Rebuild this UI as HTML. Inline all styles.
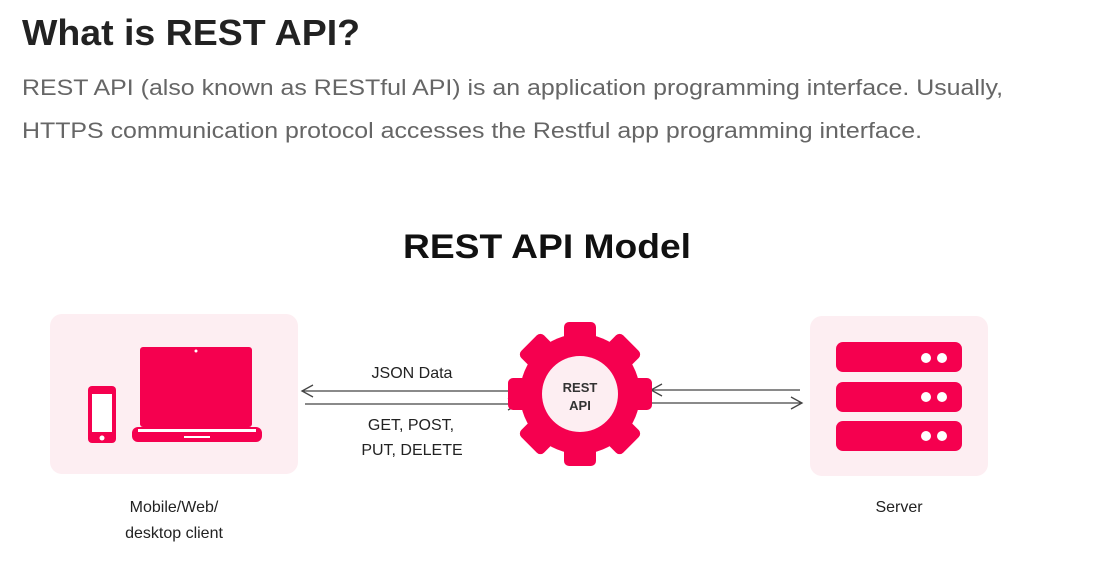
<!DOCTYPE html>
<html><head><meta charset="utf-8"><style>
html,body{margin:0;padding:0;background:#fff;width:1100px;height:572px;overflow:hidden}
svg{display:block}
</style></head><body>
<svg width="1100" height="572" viewBox="0 0 1100 572" xmlns="http://www.w3.org/2000/svg">
<text x="22" y="45" font-family="Liberation Sans, sans-serif" font-weight="bold" font-size="36" fill="#222" textLength="338" lengthAdjust="spacingAndGlyphs">What is REST API?</text>
<text x="22" y="95" font-family="Liberation Sans, sans-serif" font-size="22" fill="#666" textLength="981" lengthAdjust="spacingAndGlyphs">REST API (also known as RESTful API) is an application programming interface. Usually,</text>
<text x="22" y="138" font-family="Liberation Sans, sans-serif" font-size="22" fill="#666" textLength="900" lengthAdjust="spacingAndGlyphs">HTTPS communication protocol accesses the Restful app programming interface.</text>
<text x="547" y="258" text-anchor="middle" font-family="Liberation Sans, sans-serif" font-weight="bold" font-size="34" fill="#111" textLength="288" lengthAdjust="spacingAndGlyphs">REST API Model</text>
<!-- left box -->
<rect x="50" y="314" width="248" height="160" rx="12" fill="#fdeef2"/>
<rect x="88" y="386" width="28" height="57" rx="4" fill="#f5004f"/>
<rect x="92" y="394" width="20" height="38" fill="#fff"/>
<circle cx="102" cy="438" r="2.5" fill="#fff"/>
<rect x="140" y="347" width="112" height="80" rx="3" fill="#f5004f"/>
<circle cx="196" cy="351" r="1.5" fill="#fff"/>
<rect x="132" y="427" width="130" height="15" rx="6" fill="#f5004f"/>
<rect x="138" y="429" width="118" height="3" fill="#fff"/>
<rect x="184" y="436" width="26" height="2" fill="#fff"/>
<!-- arrows -->
<g stroke="#444" stroke-width="1.3" fill="none">
<line x1="302" y1="391" x2="517" y2="391"/><polyline points="313,385 302,391 313,397"/>
<line x1="305" y1="404" x2="519" y2="404"/><polyline points="508,398 519,404 508,410"/>
<line x1="651" y1="390" x2="800" y2="390"/><polyline points="662,384 651,390 662,396"/>
<line x1="652" y1="403" x2="802" y2="403"/><polyline points="791,397 802,403 791,409"/>
</g>
<g font-family="Liberation Sans, sans-serif" font-size="16" fill="#222" text-anchor="middle">
<text x="412" y="378">JSON Data</text>
<text x="411" y="430">GET, POST,</text>
<text x="412" y="455">PUT, DELETE</text>
<text x="174" y="512">Mobile/Web/</text>
<text x="174" y="538">desktop client</text>
<text x="899" y="512">Server</text>
</g>
<!-- gear -->
<g fill="#f5004f" transform="translate(580,394)">
<circle r="60"/>
<g id="t"><rect x="-16" y="-72" width="32" height="30" rx="5"/></g>
<use href="#t" transform="rotate(45)"/><use href="#t" transform="rotate(90)"/><use href="#t" transform="rotate(135)"/>
<use href="#t" transform="rotate(180)"/><use href="#t" transform="rotate(225)"/><use href="#t" transform="rotate(270)"/><use href="#t" transform="rotate(315)"/>
<circle r="38" fill="#fdeef2"/>
</g>
<g font-family="Liberation Sans, sans-serif" font-weight="bold" font-size="13" fill="#333" text-anchor="middle">
<text x="580" y="392">REST</text><text x="580" y="410">API</text>
</g>
<!-- server -->
<rect x="810" y="316" width="178" height="160" rx="12" fill="#fdeef2"/>
<g fill="#f5004f">
<rect x="836" y="342" width="126" height="30" rx="7"/>
<rect x="836" y="382" width="126" height="30" rx="7"/>
<rect x="836" y="421" width="126" height="30" rx="7"/>
</g>
<g fill="#fff">
<circle cx="926" cy="358" r="5"/><circle cx="942" cy="358" r="5"/>
<circle cx="926" cy="397" r="5"/><circle cx="942" cy="397" r="5"/>
<circle cx="926" cy="436" r="5"/><circle cx="942" cy="436" r="5"/>
</g>
</svg>
</body></html>
